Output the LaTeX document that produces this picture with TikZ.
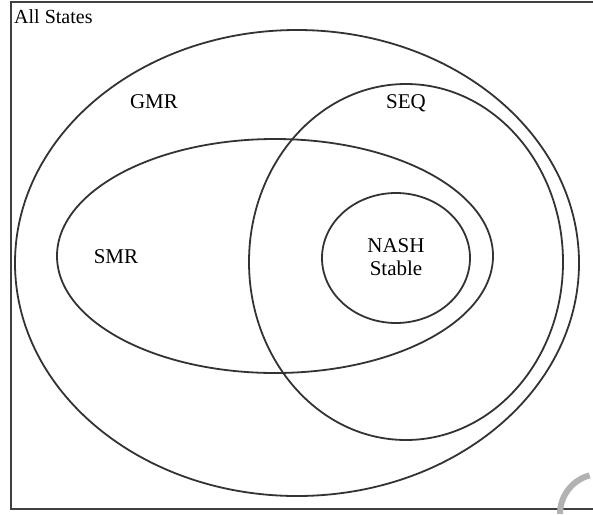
\documentclass[tikz,border=0pt]{standalone}
\usepackage{fontspec}
\setmainfont{Liberation Serif}
\newfontfamily\tnrfont{Liberation Serif}
\begin{document}
\begin{tikzpicture}[x=1pt,y=-1pt,
  setline/.style={draw=black!80, line width=1.8pt},
  lbl/.style={font=\tnrfont\fontsize{21}{23}\selectfont, text=black, align=center, inner sep=0pt}]
\useasboundingbox (0,0) rectangle (593,514);
\fill[white] (0,0) rectangle (593,514);
% frame (right side cut off)
\draw[black!75, line width=2.5pt] (600,2) -- (11,2) -- (11,509) -- (600,509);
% sets
\draw[setline] (297,263) ellipse [x radius=282, y radius=233];
\draw[setline] (406,262) ellipse [x radius=157, y radius=178];
\draw[setline] (275,256) ellipse [x radius=218, y radius=117];
\draw[setline] (396,258) ellipse [x radius=74, y radius=65];
% gray artifact
\draw[black!30, line width=6pt] (560,514) arc[start angle=180, end angle=255, radius=40];
% labels
\node[lbl, font=\tnrfont\fontsize{20}{22}\selectfont, anchor=north west] (all) at (14,9) {All States};
\node[lbl] (gmr) at (154,102) {GMR};
\node[lbl] (seq) at (406,103) {SEQ};
\node[lbl] (smr) at (116,257) {SMR};
\node[lbl] (nash) at (396,257) {NASH\\Stable};
\end{tikzpicture}
\end{document}
